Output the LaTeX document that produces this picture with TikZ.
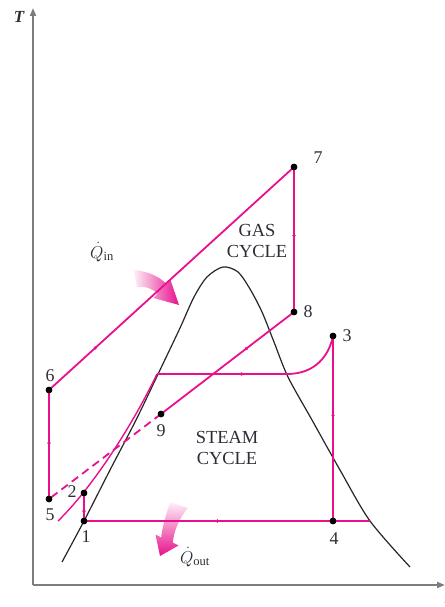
\documentclass[tikz,border=0pt]{standalone}
\usepackage{fontspec}
\setmainfont{Liberation Serif}
\usetikzlibrary{arrows.meta,decorations.markings}
\definecolor{cyc}{RGB}{232,16,140}
\definecolor{axisgray}{RGB}{125,125,125}
\definecolor{txt}{RGB}{45,45,55}
\tikzset{
  cycline/.style={draw=cyc, line width=1.8bp},
  thinline/.style={draw=cyc, line width=1.4bp},
  dome/.style={draw=black!85, line width=1.2bp},
  axisline/.style={draw=axisgray, line width=1.8bp, -{Triangle[length=8bp,width=6bp]}},
  statept/.style={circle, fill=black, inner sep=0pt, minimum size=6.5bp},
  numlabel/.style={font=\fontsize{18}{20}\selectfont, text=txt},
  cyclabel/.style={font=\fontsize{18.5}{21.5}\selectfont, text=txt, align=center},
  qlabel/.style={font=\fontsize{18}{20}\selectfont, text=txt},
  midarrow/.style={postaction={decorate, decoration={markings,
     mark=at position #1 with {\arrow{Latex[length=4.5bp,width=4bp]}}}}},
  midarrow/.default=0.5
}
\begin{document}
\begin{tikzpicture}[x=1bp, y=-1bp]
\useasboundingbox (0,0) rectangle (445,607);

% axes
\coordinate (O) at (33,585);
\coordinate (Ytop) at (33,8);
\coordinate (Xend) at (445,585);
\draw[axisline] (O) -- (Ytop);
\draw[axisline] (O) -- (Xend);
\node[font=\fontsize{17}{20}\selectfont\itshape\bfseries, text=txt] (Tlab) at (19,17) {T};
\node[font=\fontsize{17}{20}\selectfont\itshape, text=txt] (slab) at (448,600) {s};

% saturation dome
\draw[dome] plot[smooth, tension=0.5] coordinates {
 (62,562) (84,521) (110,470) (136,420) (160,370) (180,328) (194,297) (207,277) (223,267)
 (238,272) (250,289) (262,312) (274,342) (288,377) (312,420) (340,470) (370,521) (410,567)};

% heat arrows
\shade[left color=cyc!6, right color=cyc]
  (133.5,270) .. controls (148,271) and (160,277) .. (166.6,284.2)
  -- (170.5,280) -- (179,305) -- (153.5,298) -- (157.4,293.8)
  .. controls (152,288) and (145,286) .. (137,287) -- cycle;
\shade[top color=cyc!6, bottom color=cyc]
  (170,502) .. controls (166,515) and (162,528) .. (161.2,537.5)
  -- (155.5,534.5) -- (160,556) -- (178.5,545.5) -- (172.8,542.5)
  .. controls (174,530) and (180,517) .. (188,508) -- cycle;

% state points
\node[statept] (n1) at (84,521) {};
\node[statept] (n2) at (84,493) {};
\node[statept] (n3) at (333,336) {};
\node[statept] (n4) at (333,521) {};
\node[statept] (n5) at (49,499) {};
\node[statept] (n6) at (49,390) {};
\node[statept] (n7) at (294,167) {};
\node[statept] (n8) at (294,312) {};
\node[statept] (n9) at (161,414) {};
\coordinate (c0) at (58,521);
\coordinate (sl) at (157,374);
\coordinate (sr) at (287,374);
\coordinate (d4) at (370,521);

% gas cycle
\draw[cycline, midarrow=0.55] (n5.center) -- (n6.center);
\draw[cycline, midarrow=0.2] (n6.center) -- (n7.center);
\draw[cycline, midarrow=0.5] (n7.center) -- (n8.center);
\draw[cycline, midarrow=0.38] (n8.center) -- (n9.center);
\draw[cycline, dash pattern=on 8bp off 5bp] (n9.center) -- (n5.center);

% steam cycle
\draw[cycline, midarrow=0.5] (n1.center) -- (n2.center);
\draw[thinline] (c0) .. controls (90,490) and (130,430) .. (sl);
\draw[cycline, midarrow=0.68] (sl) -- (sr);
\draw[cycline] (sr) .. controls (315,374) and (329,356) .. (n3.center);
\draw[cycline, midarrow=0.45] (n3.center) -- (n4.center);
\draw[draw=cyc, line width=2.8bp, midarrow=0.48] (n4.center) -- (n1.center);
\draw[thinline] (n4.center) -- (d4);

% dots on top
\foreach \p in {n1,n2,n3,n4,n5,n6,n7,n8,n9}
  \fill[black] (\p) circle (3.3bp);

% labels
\node[numlabel] (l7) at (318,158) {7};
\node[numlabel] (l8) at (308,312) {8};
\node[numlabel] (l3) at (347,336) {3};
\node[numlabel] (l6) at (50,376) {6};
\node[numlabel] (l5) at (50,515) {5};
\node[numlabel] (l2) at (72,492) {2};
\node[numlabel] (l1) at (86,537) {1};
\node[numlabel] (l9) at (161,431) {9};
\node[numlabel] (l4) at (334,539) {4};

\node[cyclabel] (gas) at (257,241) {GAS\\CYCLE};
\node[cyclabel] (steam) at (227,448) {STEAM\\CYCLE};

\node[qlabel] (qin) at (102,252) {$\dot{Q}_{\mathrm{in}}$};
\node[qlabel] (qout) at (195,557) {$\dot{Q}_{\mathrm{out}}$};
\end{tikzpicture}
\end{document}
